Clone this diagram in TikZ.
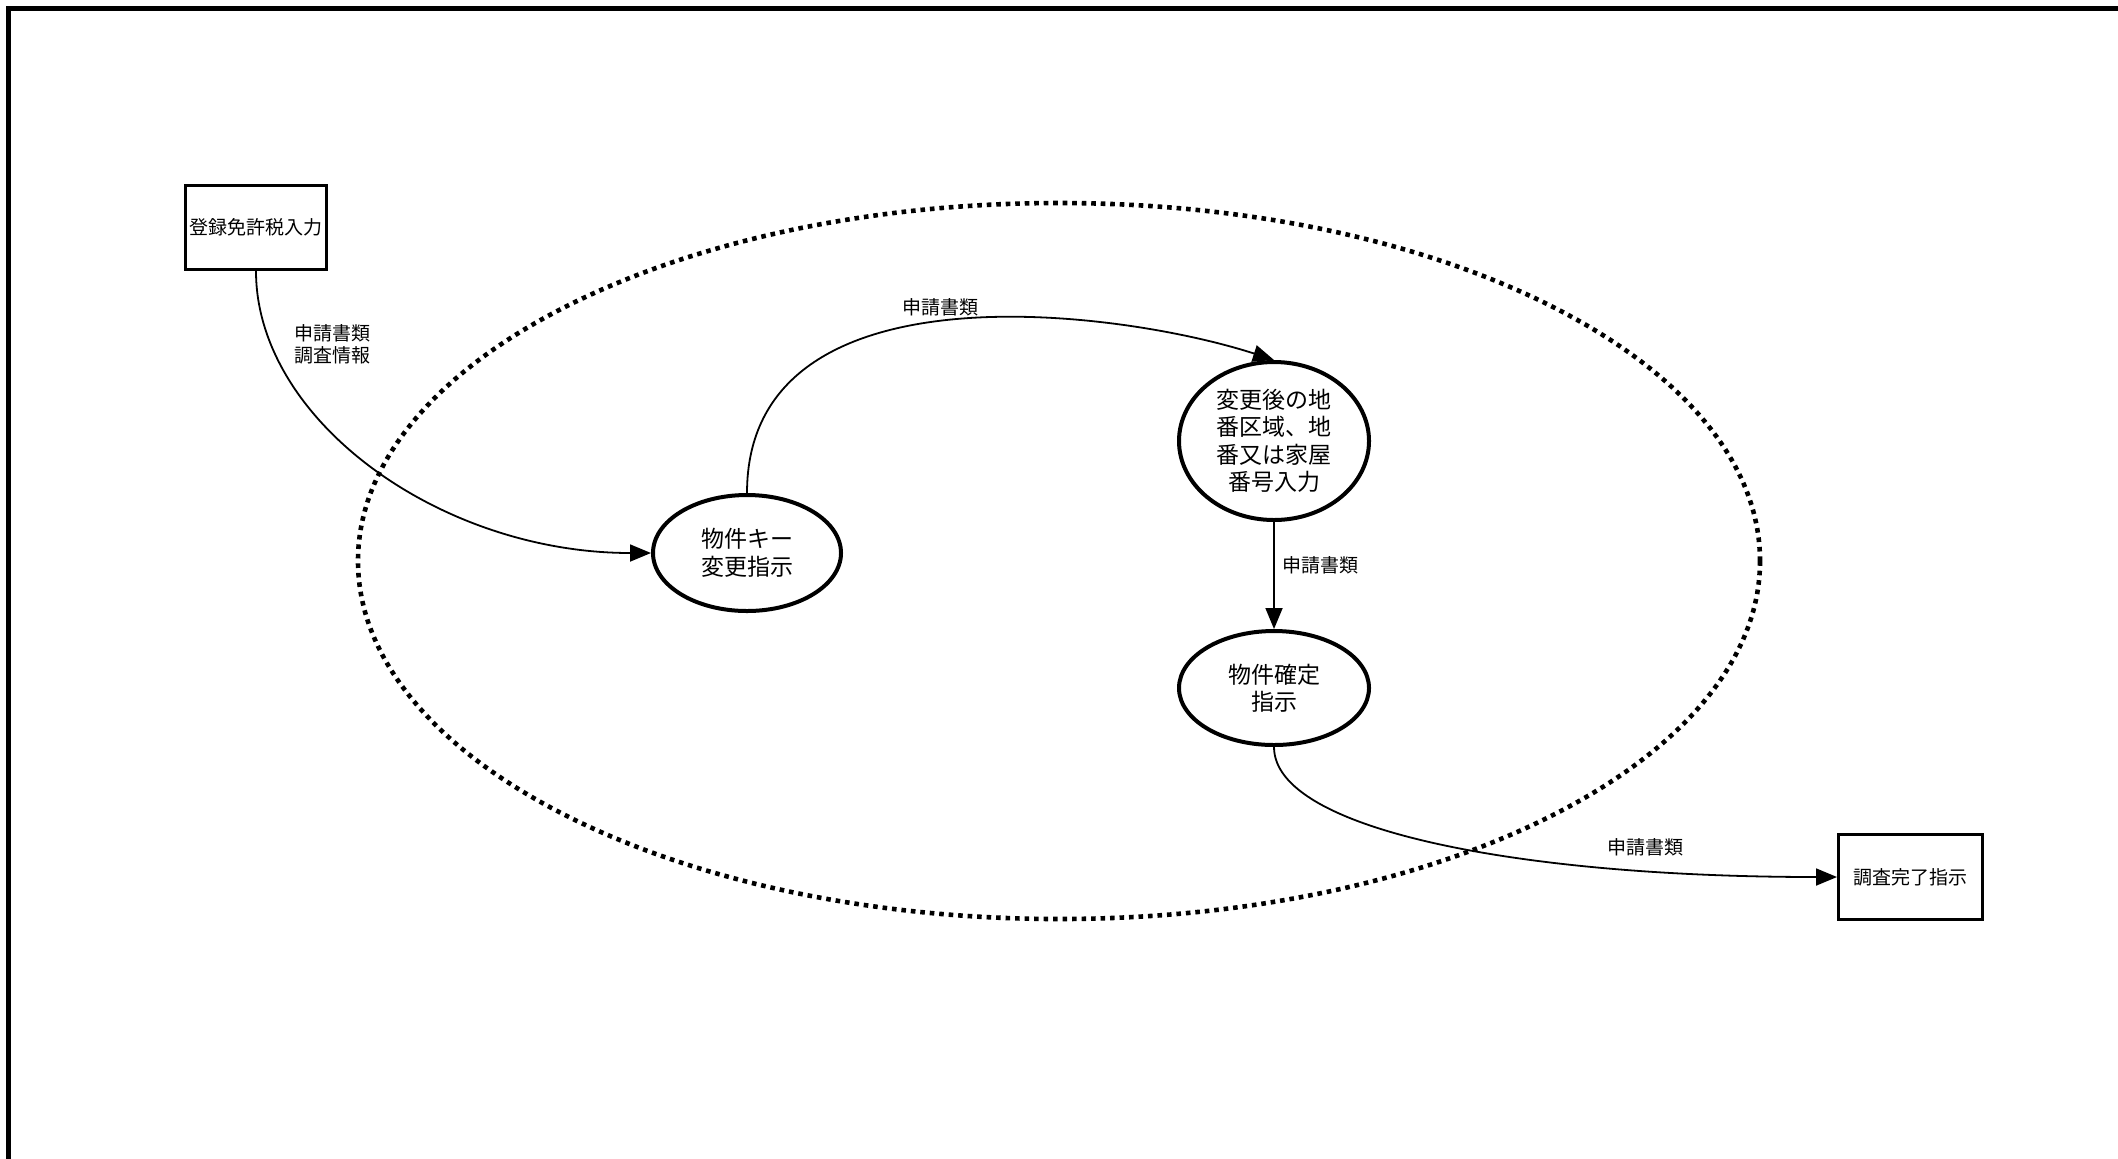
\documentclass[tikz,border=0pt]{standalone}
\usepackage{fontspec}
\setmainfont{Noto Sans CJK JP}
\usetikzlibrary{shapes.geometric,arrows.meta}
\begin{document}
\begin{tikzpicture}[x=0.5pt,y=-0.5pt,
  proc/.style={ellipse,draw,line width=2pt,inner sep=0pt,align=center,font=\fontsize{11.5pt}{13.75pt}\selectfont},
  ext/.style={rectangle,draw,line width=1.5pt,inner sep=0pt,align=center,font=\fontsize{9.5pt}{11.5pt}\selectfont},
  flow/.style={line width=0.9pt,-{Triangle[length=10.5pt,width=8.5pt]}},
  lbl/.style={font=\fontsize{9.5pt}{11pt}\selectfont,align=left,inner sep=0pt},
  boundary/.style={ellipse,draw,line width=2.3pt,dash pattern=on 2.3pt off 2.45pt,inner sep=0pt}
]
\useasboundingbox (0,0) rectangle (2118,1158);
\begin{scope}
\clip (0,0) rectangle (2118,1158);
\draw[line width=2.5pt] (8.5,1200) -- (8.5,8.5) -- (2200,8.5);
\end{scope}
\node[boundary,minimum width=701pt,minimum height=358pt] (bd) at (1059,561) {};
\node[ext,minimum width=70.5pt,minimum height=42pt] (reg) at (256,227.5) {登録免許税入力};
\node[proc,minimum width=94pt,minimum height=58pt] (p1) at (747,553) {物件キー\\変更指示};
\node[proc,minimum width=95pt,minimum height=79pt] (p2) at (1274,441) {変更後の地\\番区域、地\\番又は家屋\\番号入力};
\node[proc,minimum width=95pt,minimum height=57pt] (p3) at (1274,688) {物件確定\\指示};
\node[ext,minimum width=72pt,minimum height=42.5pt] (done) at (1910.5,877) {調査完了指示};
\draw[flow] (reg.south) .. controls (256,420) and (440,553) .. (p1.west);
\draw[flow] (p1.north) .. controls (747,260) and (1120,310) .. (p2.north);
\draw[flow] (p2) -- (p3);
\draw[flow] (p3.south) .. controls (1274,830) and (1520,877) .. (done.west);
\node[lbl] (l1) at (332,344) {申請書類\\調査情報};
\node[lbl] (l2) at (940,307) {申請書類};
\node[lbl] (l3) at (1320,565) {申請書類};
\node[lbl] (l4) at (1645,847) {申請書類};
\end{tikzpicture}
\end{document}
